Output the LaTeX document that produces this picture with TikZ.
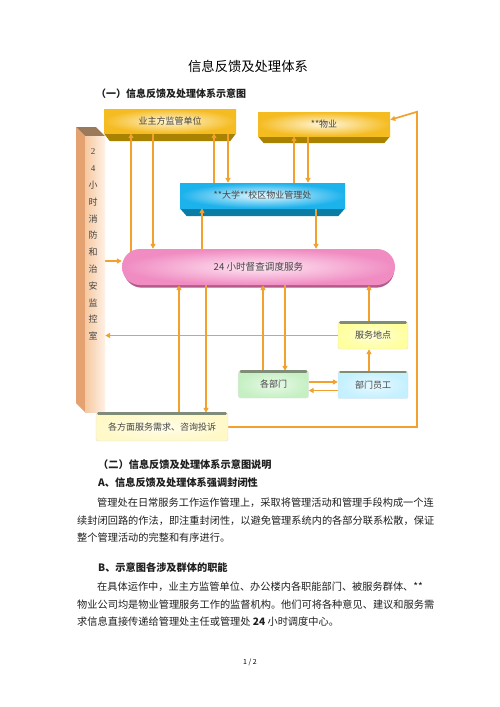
\documentclass[tikz,border=0pt]{standalone}
\usepackage{fontspec}
\setmainfont{Noto Sans CJK SC}
\newfontfamily\serifdig{Liberation Serif}
\usetikzlibrary{arrows.meta}
\definecolor{arrc}{HTML}{F2A12E}
\definecolor{txtc}{HTML}{444444}
\definecolor{yface}{HTML}{F5BC22}
\definecolor{yin}{HTML}{FFF6DA}
\definecolor{ybev}{HTML}{A88200}
\definecolor{bface}{HTML}{1CB2EC}
\definecolor{bin}{HTML}{EAF9FF}
\definecolor{bbev}{HTML}{0B7CA4}
\definecolor{pface}{HTML}{F08CC2}
\definecolor{pin}{HTML}{FFE8F4}
\definecolor{pshad}{HTML}{B45A88}
\definecolor{pilside}{HTML}{E4A270}
\definecolor{piltop}{HTML}{9A7A5A}
\definecolor{pilfront}{HTML}{F6C8A0}
\definecolor{pilfront2}{HTML}{FFF1E6}
\definecolor{stripc}{HTML}{7E8C78}
\definecolor{fwc}{HTML}{FFFF9E}
\definecolor{ygzc}{HTML}{C4F0FF}
\definecolor{gbmc}{HTML}{C6F0C4}
\definecolor{tsc}{HTML}{FFF9C8}
\pgfdeclarelayer{pagebg}
\pgfdeclarelayer{bevel}
\pgfdeclarelayer{conn}
\pgfsetlayers{pagebg,bevel,conn,main}
\tikzset{
  face/.style={inner sep=0pt, text=txtc, font=\fontsize{9}{9}\selectfont},
  ybox/.style={face, minimum width=132pt, minimum height=24pt, inner color=yin, outer color=yface},
  bbox/.style={face, minimum width=165pt, minimum height=25pt, inner color=bin, outer color=bface},
  sbox/.style={face, minimum width=70pt, minimum height=27pt, rounded corners=2pt, draw=black!12, inner color=white!60!#1, outer color=#1},
  arr/.style={draw=arrc, line width=1.7pt, -{Triangle[length=5pt,width=5pt]}},
  strip/.style={draw=stripc, line width=2.2pt, line cap=round},
  body/.style={anchor=west, inner sep=0pt, font=\fontsize{10.2}{10.2}\selectfont, text=black!88},
  head/.style={body, font=\fontsize{10.2}{10.2}\selectfont\bfseries}
}
\begin{document}
\begin{tikzpicture}[x=1pt,y=-1pt]
\useasboundingbox (0,0) rectangle (500,707);
\begin{pgfonlayer}{pagebg}
\fill[white] (0,0) rectangle (500,707);
\end{pgfonlayer}

% page texts
\node[font=\fontsize{13.3}{13.3}\selectfont, inner sep=0pt] (title) at (248,66) {信息反馈及处理体系};
\node[head, font=\fontsize{10}{10}\selectfont\bfseries] (sub1) at (96,94) {（一）信息反馈及处理体系示意图};

% pillar
\fill[piltop] (76,127) -- (96,127) -- (105,136) -- (85,136) -- cycle;
\fill[pilside] (76,127) -- (85,136) -- (85,412) -- (76,403) -- cycle;
\node[inner sep=0pt, minimum width=20pt, minimum height=276pt, left color=pilfront, right color=pilfront2] (pillar) at (95,274) {};
\node[inner sep=0pt, align=center, text=txtc, font=\fontsize{9}{16.8}\selectfont] (pillartext) at (93,244.5)
  {{\serifdig 2}\\{\serifdig 4}\\小\\时\\消\\防\\和\\治\\安\\监\\控\\室};

% top boxes
\node[ybox] (yz) at (170,121) {业主方监管单位};
\node[ybox] (wy) at (324,124) {**物业};
\node[bbox] (dx) at (262.5,195.5) {**大学**校区物业管理处};

% ellipse
\node[face, minimum width=273pt, minimum height=36pt, rounded corners=18pt, inner color=pin, outer color=pface, font=\fontsize{9.6}{9.6}\selectfont] (ell) at (258.5,267) {24 小时督查调度服务};

% small boxes
\node[sbox=fwc] (fw) at (373,335.5) {服务地点};
\node[sbox=ygzc] (ygz) at (373,385) {部门员工};
\node[sbox=gbmc] (gbm) at (273.5,384.5) {各部门};
\node[sbox=tsc, minimum width=132pt, minimum height=28pt] (ts) at (162,427) {各方面服务需求、咨询投诉};
\foreach \b in {fw,ygz,gbm,ts}{
  \draw[strip] ([shift={(2.5,0.6)}]\b.north west) -- ([shift={(-2.5,0.6)}]\b.north east);
}

% bevels and shadows
\begin{pgfonlayer}{bevel}
  \fill[ybev] (yz.south west) -- (yz.south east) -- ([shift={(-6,8)}]yz.south east) -- ([shift={(6,8)}]yz.south west) -- cycle;
  \fill[ybev] (wy.south west) -- (wy.south east) -- ([shift={(-6,7)}]wy.south east) -- ([shift={(6,7)}]wy.south west) -- cycle;
  \fill[bbev] (dx.south west) -- (dx.south east) -- ([shift={(-7,8)}]dx.south east) -- ([shift={(7,8)}]dx.south west) -- cycle;
  \fill[pshad, rounded corners=18pt] ([shift={(2,2.5)}]ell.north west) rectangle ([shift={(-1,2.5)}]ell.south east);
\end{pgfonlayer}

% connectors
\begin{pgfonlayer}{conn}
  \draw[arr] (131,0 |- ell.center) -- (131,0 |- yz.south);
  \draw[arr] (153,0 |- yz.south) -- (153,0 |- ell.north);
  \draw[arr] (214,0 |- dx.north) -- (214,0 |- yz.south);
  \draw[arr] (228,0 |- yz.south) -- (228,0 |- dx.north);
  \draw[arr] (294,0 |- dx.north) -- (294,0 |- wy.south);
  \draw[arr] (308,0 |- wy.south) -- (308,0 |- dx.north);
  \draw[arr] (202,0 |- ell.center) -- (202,0 |- dx.south);
  \draw[arr] (316,0 |- dx.south) -- (316,0 |- ell.north);
  \draw[arr] ([yshift=6pt]pillar.east |- ell.west) -- ([yshift=6pt]ell.west);
  \draw[arr] (fw.west) -- (fw.west -| pillar.east);
  \draw[arr] (179,0 |- ts.north) -- (179,0 |- ell.south);
  \draw[arr] (206,0 |- ell.center) -- (206,0 |- ts.north);
  \draw[arr] (263,0 |- gbm.north) -- (263,0 |- ell.south);
  \draw[arr] (285,0 |- ell.center) -- (285,0 |- gbm.north);
  \draw[arr] ([yshift=2.5pt]gbm.east) -- ([yshift=2.5pt]gbm.east -| ygz.west);
  \draw[arr] ([yshift=-5.5pt]ygz.west) -- ([yshift=-5.5pt]ygz.west -| gbm.east);
  \draw[arr] ([xshift=-4pt]ygz.north) -- ([xshift=-4pt]fw.south);
  \draw[arr] ([xshift=-4pt]fw.north) -- ([xshift=-4pt]fw.north |- ell.south);
  \draw[arr] (ts.east) -- (417,0 |- ts.east) -- (417,0 |- wy.north east) -- ([yshift=-8pt]wy.north east);
\end{pgfonlayer}

% explanation text
\node[head] (sub2) at (98,465) {（二）信息反馈及处理体系示意图说明};
\node[head] (ha) at (98,483) {A、信息反馈及处理体系强调封闭性};
\node[body] (p1a) at (97,503) {管理处在日常服务工作运作管理上，采取将管理活动和管理手段构成一个连};
\node[body] (p1b) at (77,521) {续封闭回路的作法，即注重封闭性，以避免管理系统内的各部分联系松散，保证};
\node[body] (p1c) at (77,538) {整个管理活动的完整和有序进行。};
\node[head] (hb) at (98,568) {B、示意图各涉及群体的职能};
\node[body] (p2a) at (97,587) {在具体运作中，业主方监管单位、办公楼内各职能部门、被服务群体、**};
\node[body] (p2b) at (77,605) {物业公司均是物业管理服务工作的监督机构。他们可将各种意见、建议和服务需};
\node[body] (p2c) at (77,622) {求信息直接传递给管理处主任或管理处 {\bfseries 24} 小时调度中心。};
\node[inner sep=0pt, font=\fontsize{7}{7}\selectfont] (pg) at (250,662) {1 / 2};
\end{tikzpicture}
\end{document}
